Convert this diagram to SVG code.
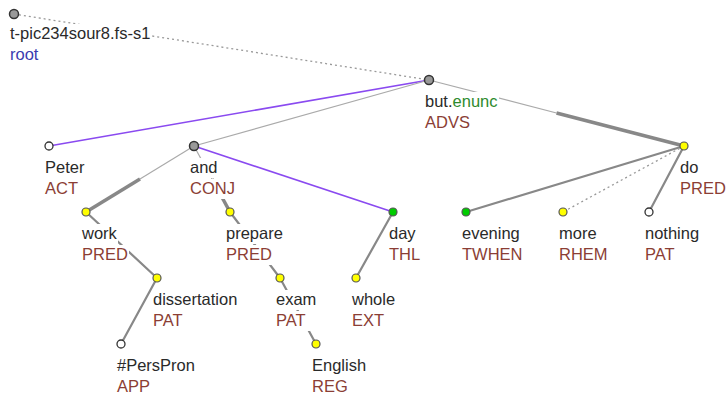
<svg xmlns="http://www.w3.org/2000/svg" width="726" height="397" viewBox="0 0 726 397">
<style>
text{font-family:"Liberation Sans",Arial,sans-serif;font-size:16.5px;fill:#2a2a2a}
.fn{fill:#8b3e35}
.rt{fill:#3b3bb0}
.gr{fill:#2e8b2e}
.bg{fill:#fff}
.e{stroke:#888;stroke-width:2.2;fill:none;stroke-linecap:round}
.thin{stroke:#aaa;stroke-width:1.2;fill:none}
.thick{stroke:#888;stroke-width:3.5;fill:none}
.dot{stroke:#999;stroke-width:1.3;stroke-dasharray:2 3;fill:none}
.mem{stroke:#8a4af0;stroke-width:1.6;fill:none}
.ng{fill:#999;stroke:#333;stroke-width:1.5}
.ny{fill:#ffff00;stroke:#555;stroke-width:1.2}
.nv{fill:#00cc00;stroke:#555;stroke-width:1.2}
.nw{fill:#fff;stroke:#333;stroke-width:1.3}
</style>
<rect width="726" height="397" fill="#fff"/>
<g id="connectors">
<path class="dot" d="M14,14 L429,80"/>
<path class="mem" d="M429,80 L49,146"/>
<path class="thin" d="M429,80 L194,146"/>
<path class="thin" d="M429,80 L556.5,113"/>
<path class="thick" d="M556.5,113 L684,146"/>
<path class="thin" d="M194,146 L140,179"/>
<path class="thick" d="M140,179 L86,212"/>
<path class="thin" d="M194,146 L212,179"/>
<path class="thick" d="M212,179 L230,212"/>
<path class="mem" d="M194,146 L393,212"/>
<path class="e" d="M86,212 L157,278"/>
<path class="e" d="M157,278 L121,344"/>
<path class="e" d="M230,212 L280,278"/>
<path class="e" d="M280,278 L316,344"/>
<path class="e" d="M393,212 L356,278"/>
<path class="e" d="M684,146 L466,212"/>
<path class="dot" d="M684,146 L563,212"/>
<path class="e" d="M684,146 L649,212"/>
</g>
<g id="n-root">
<rect class="bg" x="9" y="24" width="143" height="20"/><rect class="bg" x="9" y="45" width="31" height="20"/>
<text x="10" y="39">t-pic234sour8.fs-s1</text><text class="rt" x="10" y="60">root</text>
<circle class="ng" cx="14" cy="14" r="4.5"/>
</g>
<g id="n-but">
<rect class="bg" x="424" y="92" width="75" height="20"/><rect class="bg" x="424" y="113" width="47" height="20"/>
<text x="425" y="107">but.<tspan class="gr">enunc</tspan></text><text class="fn" x="425" y="128">ADVS</text>
<circle class="ng" cx="429" cy="80" r="4.5"/>
</g>
<g id="n-peter">
<rect class="bg" x="44" y="158" width="42" height="20"/><rect class="bg" x="44" y="179" width="36" height="20"/>
<text x="45" y="173">Peter</text><text class="fn" x="45" y="194">ACT</text>
<circle class="nw" cx="49" cy="146" r="4"/>
</g>
<g id="n-and">
<rect class="bg" x="189" y="158" width="30" height="20"/><rect class="bg" x="189" y="179" width="47" height="20"/>
<text x="190" y="173">and</text><text class="fn" x="190" y="194">CONJ</text>
<circle class="ng" cx="194" cy="146" r="4.5"/>
</g>
<g id="n-do">
<rect class="bg" x="679" y="158" width="21" height="20"/><rect class="bg" x="679" y="179" width="47" height="20"/>
<text x="680" y="173">do</text><text class="fn" x="680" y="194">PRED</text>
<circle class="ny" cx="684" cy="146" r="4"/>
</g>
<g id="n-work">
<rect class="bg" x="81" y="224" width="37" height="20"/><rect class="bg" x="81" y="245" width="48" height="20"/>
<text x="82" y="239">work</text><text class="fn" x="82" y="260">PRED</text>
<circle class="ny" cx="86" cy="212" r="4"/>
</g>
<g id="n-prepare">
<rect class="bg" x="225" y="224" width="59" height="20"/><rect class="bg" x="225" y="245" width="48" height="20"/>
<text x="226" y="239">prepare</text><text class="fn" x="226" y="260">PRED</text>
<circle class="ny" cx="230" cy="212" r="4"/>
</g>
<g id="n-day">
<rect class="bg" x="388" y="224" width="29" height="20"/><rect class="bg" x="388" y="245" width="34" height="20"/>
<text x="389" y="239">day</text><text class="fn" x="389" y="260">THL</text>
<circle class="nv" cx="393" cy="212" r="4"/>
</g>
<g id="n-evening">
<rect class="bg" x="461" y="224" width="60" height="20"/><rect class="bg" x="461" y="245" width="63" height="20"/>
<text x="462" y="239">evening</text><text class="fn" x="462" y="260">TWHEN</text>
<circle class="nv" cx="466" cy="212" r="4"/>
</g>
<g id="n-more">
<rect class="bg" x="558" y="224" width="40" height="20"/><rect class="bg" x="558" y="245" width="51" height="20"/>
<text x="559" y="239">more</text><text class="fn" x="559" y="260">RHEM</text>
<circle class="ny" cx="563" cy="212" r="4"/>
</g>
<g id="n-nothing">
<rect class="bg" x="644" y="224" width="57" height="20"/><rect class="bg" x="644" y="245" width="35" height="20"/>
<text x="645" y="239">nothing</text><text class="fn" x="645" y="260">PAT</text>
<circle class="nw" cx="649" cy="212" r="4"/>
</g>
<g id="n-dissertation">
<rect class="bg" x="152" y="290" width="87" height="20"/><rect class="bg" x="152" y="311" width="35" height="20"/>
<text x="153" y="305">dissertation</text><text class="fn" x="153" y="326">PAT</text>
<circle class="ny" cx="157" cy="278" r="4"/>
</g>
<g id="n-exam">
<rect class="bg" x="275" y="290" width="43" height="20"/><rect class="bg" x="275" y="311" width="35" height="20"/>
<text x="276" y="305">exam</text><text class="fn" x="276" y="326">PAT</text>
<circle class="ny" cx="280" cy="278" r="4"/>
</g>
<g id="n-whole">
<rect class="bg" x="351" y="290" width="46" height="20"/><rect class="bg" x="351" y="311" width="35" height="20"/>
<text x="352" y="305">whole</text><text class="fn" x="352" y="326">EXT</text>
<circle class="ny" cx="356" cy="278" r="4"/>
</g>
<g id="n-perspron">
<rect class="bg" x="116" y="356" width="80" height="20"/><rect class="bg" x="116" y="377" width="36" height="20"/>
<text x="117" y="371">#PersPron</text><text class="fn" x="117" y="392">APP</text>
<circle class="nw" cx="121" cy="344" r="4"/>
</g>
<g id="n-english">
<rect class="bg" x="311" y="356" width="57" height="20"/><rect class="bg" x="311" y="377" width="38" height="20"/>
<text x="312" y="371">English</text><text class="fn" x="312" y="392">REG</text>
<circle class="ny" cx="316" cy="344" r="4"/>
</g>
</svg>
